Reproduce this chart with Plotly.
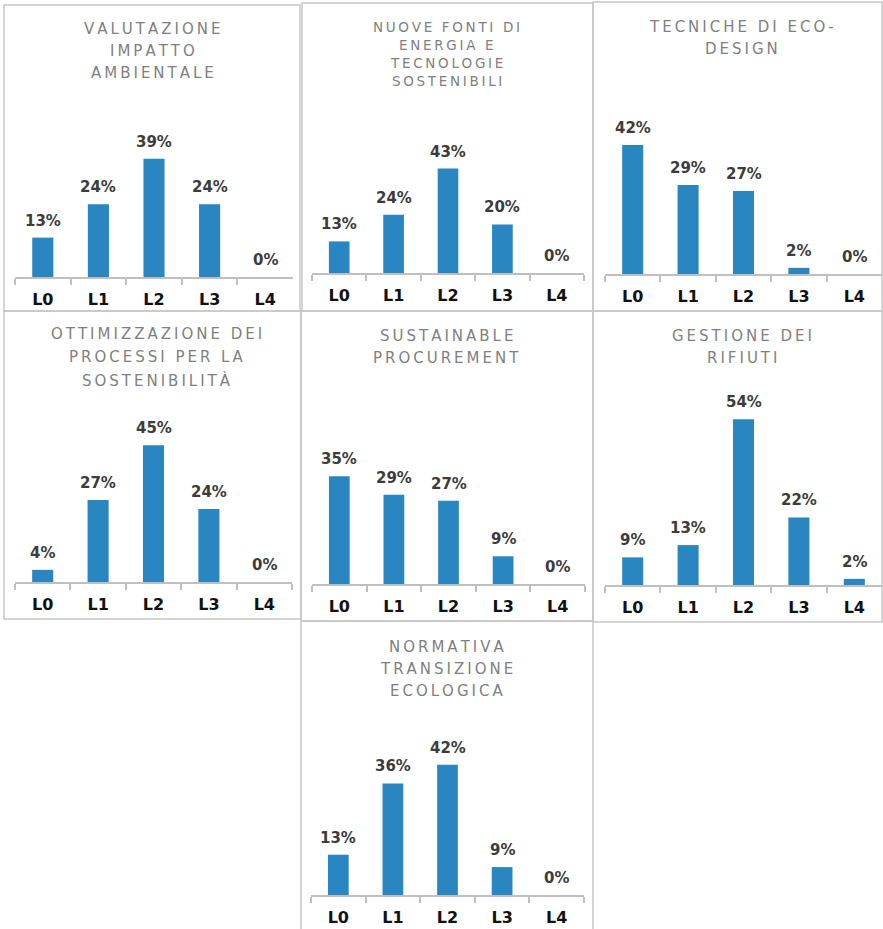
import plotly.graph_objects as go

# Competence levels on the x axis of every panel
levels = ["L0", "L1", "L2", "L3", "L4"]

# Share of respondents per level (%)
valutazione_impatto = [13, 24, 39, 24, 0]
nuove_fonti_energia = [13, 24, 43, 20, 0]
eco_design = [42, 29, 27, 2, 0]
ottimizzazione_processi = [4, 27, 45, 24, 0]
sustainable_procurement = [35, 29, 27, 9, 0]
gestione_rifiuti = [9, 13, 54, 22, 2]
normativa_transizione = [13, 36, 42, 9, 0]

# Panel titles, one entry per printed line
title_valutazione = ["VALUTAZIONE", "IMPATTO", "AMBIENTALE"]
title_nuove_fonti = ["NUOVE FONTI DI", "ENERGIA E", "TECNOLOGIE", "SOSTENIBILI"]
title_eco_design = ["TECNICHE DI ECO-", "DESIGN"]
title_ottimizzazione = ["OTTIMIZZAZIONE DEI", "PROCESSI PER LA", "SOSTENIBILITÀ"]
title_procurement = ["SUSTAINABLE", "PROCUREMENT"]
title_rifiuti = ["GESTIONE DEI", "RIFIUTI"]
title_normativa = ["NORMATIVA", "TRANSIZIONE", "ECOLOGICA"]

W, H = 883, 929
BAR = "#2a86c0"
AXIS = "#bfbfbf"
BORDER = "#c6c6c6"
TITLE = "#7f7f7f"
FONT = "DejaVu Sans"


def fx(px):
    return px / W


def fy(py):
    return 1 - py / H


def tracked(line):
    # widen the letter spacing with thin spaces
    return "\u2009".join(line)


# Geometry of each panel in pixels: frame box, axis extent, baseline,
# pixels per percent, title centre and line pitch
panels = [
    dict(values=valutazione_impatto, title=title_valutazione, box=(4, 5, 300, 311),
         ax=(15, 293), base=277, scale=3.03, tx=152, ty=29, pitch=22, tsize=15),
    dict(values=nuove_fonti_energia, title=title_nuove_fonti, box=(302, 3, 593, 311),
         ax=(312, 584), base=273, scale=2.43, tx=447, ty=27, pitch=18, tsize=13.5),
    dict(values=eco_design, title=title_eco_design, box=(593, 2, 882, 311),
         ax=(605, 882), base=274, scale=3.07, tx=741, ty=27, pitch=22, tsize=15),
    dict(values=ottimizzazione_processi, title=title_ottimizzazione, box=(4, 311, 301, 619),
         ax=(15, 292), base=582, scale=3.04, tx=156, ty=334, pitch=23, tsize=15),
    dict(values=sustainable_procurement, title=title_procurement, box=(301, 311, 593, 621),
         ax=(312, 585), base=584, scale=3.08, tx=446, ty=336, pitch=22, tsize=15),
    dict(values=gestione_rifiuti, title=title_rifiuti, box=(593, 311, 882, 622),
         ax=(605, 882), base=585, scale=3.07, tx=742, ty=336, pitch=22, tsize=15),
    dict(values=normativa_transizione, title=title_normativa, box=(301, 621, 593, 932),
         ax=(311, 584), base=895, scale=3.10, tx=446, ty=647, pitch=22, tsize=15),
]

fig = go.Figure()
shapes = []
annotations = []
PLOT_H = 240  # pixel height of each plotting area above its baseline

for i, p in enumerate(panels, start=1):
    xa = "x" if i == 1 else f"x{i}"
    ya = "y" if i == 1 else f"y{i}"
    xkey = "xaxis" if i == 1 else f"xaxis{i}"
    ykey = "yaxis" if i == 1 else f"yaxis{i}"

    fig.add_trace(go.Bar(
        x=levels, y=p["values"], xaxis=xa, yaxis=ya,
        marker=dict(color=BAR, line=dict(width=0)),
        width=0.38, hoverinfo="skip", showlegend=False,
    ))

    fig.layout[xkey] = dict(
        domain=[fx(p["ax"][0]), fx(p["ax"][1])],
        anchor=ya, type="category", range=[-0.5, 4.5],
        showline=True, linecolor=AXIS, linewidth=2,
        ticks="outside", tickson="boundaries", ticklen=6,
        tickcolor=AXIS, tickwidth=1.5, ticklabelstandoff=7,
        showgrid=False, zeroline=False, fixedrange=True,
        tickfont=dict(family=FONT, size=16, color="#111111", weight="bold"),
    )
    fig.layout[ykey] = dict(
        domain=[fy(p["base"]), fy(p["base"] - PLOT_H)],
        anchor=xa, range=[0, PLOT_H / p["scale"]],
        visible=False, fixedrange=True,
    )

    # value labels above each bar
    for lvl, v in zip(levels, p["values"]):
        annotations.append(dict(
            x=lvl, y=v, xref=xa, yref=ya, text=f"{v}%",
            showarrow=False, yanchor="middle", yshift=17,
            font=dict(family=FONT, size=15, color="#3c3c3c", weight="bold"),
        ))

    # panel title, one annotation per line
    for k, line in enumerate(p["title"]):
        annotations.append(dict(
            x=fx(p["tx"]), y=fy(p["ty"] + k * p["pitch"]),
            xref="paper", yref="paper", text=tracked(line),
            showarrow=False, xanchor="center", yanchor="middle",
            font=dict(family=FONT, size=p["tsize"], color=TITLE),
        ))

    # frame around the panel
    x0, y0, x1, y1 = p["box"]
    shapes.append(dict(
        type="rect", xref="paper", yref="paper",
        x0=fx(x0), x1=fx(x1), y0=fy(y1), y1=fy(y0),
        line=dict(color=BORDER, width=1.5), fillcolor="rgba(0,0,0,0)",
        layer="below",
    ))

fig.update_layout(
    width=W, height=H,
    margin=dict(l=0, r=0, t=0, b=0),
    paper_bgcolor="white", plot_bgcolor="rgba(0,0,0,0)",
    shapes=shapes, annotations=annotations,
    showlegend=False, bargap=0.6,
)

fig.write_html("out.html")
